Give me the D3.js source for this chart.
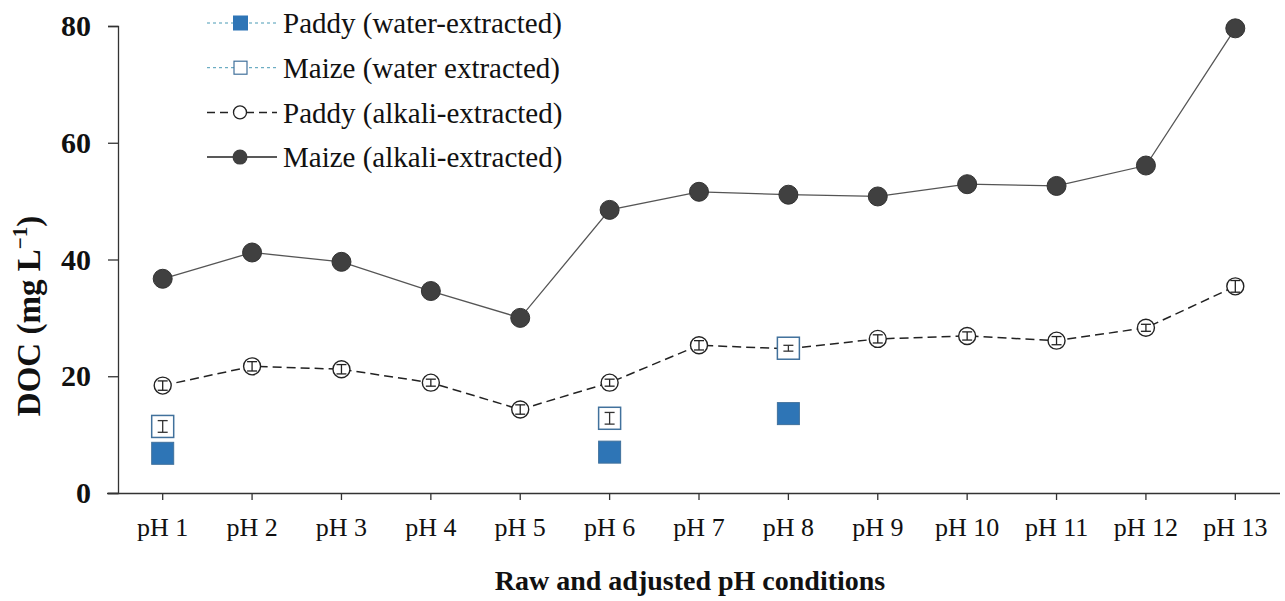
<!DOCTYPE html>
<html>
<head>
<meta charset="utf-8">
<script src="https://cdn.jsdelivr.net/npm/d3@7"></script>
<style>
  body { margin: 0; background: #fff; }
  text { font-family: "Liberation Serif", "Times New Roman", serif; }
</style>
</head>
<body>
<div id="chart"></div>
<script>
// DATA
var categories = ["pH 1", "pH 2", "pH 3", "pH 4", "pH 5", "pH 6", "pH 7", "pH 8", "pH 9", "pH 10", "pH 11", "pH 12", "pH 13"]
, maizeAlkali = [36.7, 41.2, 39.6, 34.6, 30.0, 48.5, 51.6, 51.1, 50.8, 52.9, 52.6, 56.1, 79.6]
, paddyAlkali = [18.4, 21.7, 21.2, 18.9, 14.3, 18.9, 25.3, 24.7, 26.4, 26.9, 26.1, 28.3, 35.4]
, paddyAlkaliErr = [0.8, 0.8, 0.8, 0.6, 0.8, 0.6, 0.8, 1.0, 0.7, 0.7, 0.7, 0.6, 1.0]
, waterCats = ["pH 1", "pH 6", "pH 8"]
, maizeWater = [11.4, 12.8, 24.8]
, maizeWaterErr = [1.0, 1.0, 0.5]
, paddyWater = [6.8, 7.0, 13.6]
, yTicks = [0, 20, 40, 60, 80]
, legendItems = [
    {title: "Paddy (water-extracted)", key: "pw"},
    {title: "Maize (water extracted)", key: "mw"},
    {title: "Paddy (alkali-extracted)", key: "pa"},
    {title: "Maize (alkali-extracted)", key: "ma"}
  ];

var w = 1285
, h = 601
, plotLeft = 118
, plotRight = 1280
, plotTop = 26
, plotBottom = 493
, blue = "#2E75B6"
, blueEdge = "#41719C"
, dark = "#404040";

var svg = d3.select("#chart").append("svg")
    .attr("width", w)
    .attr("height", h);

var x = d3.scaleBand().domain(categories).range([plotLeft, plotRight]);
var y = d3.scaleLinear().domain([0, 80]).range([plotBottom, plotTop]);
var cx = function(c) { return x(c) + x.bandwidth() / 2; };

// axes
var yAxis = svg.append("g")
    .attr("transform", "translate(" + plotLeft + ",0)")
    .call(d3.axisLeft(y).tickValues(yTicks).tickSize(10).tickPadding(17));
yAxis.select(".domain").attr("stroke", "#333").attr("stroke-width", 1.3);
yAxis.selectAll(".tick line").attr("stroke", "#333").attr("stroke-width", 1.3);
yAxis.selectAll(".tick text")
    .attr("font-size", 30).attr("font-weight", "bold").attr("fill", "#111")
    .style("font-family", "'Liberation Serif', serif");

var xAxis = svg.append("g")
    .attr("transform", "translate(0," + plotBottom + ")")
    .call(d3.axisBottom(x).tickSize(7).tickSizeOuter(0).tickPadding(18));
xAxis.select(".domain").attr("d", "M" + (plotLeft - 11) + ",0.5H" + plotRight)
    .attr("stroke", "#333").attr("stroke-width", 1.3);
xAxis.selectAll(".tick line").attr("stroke", "#333").attr("stroke-width", 1.3);
xAxis.selectAll(".tick text")
    .attr("font-size", 26).attr("fill", "#111")
    .style("font-family", "'Liberation Serif', serif");

// axis titles
svg.append("text")
    .attr("x", 690)
    .attr("y", 590)
    .attr("text-anchor", "middle")
    .attr("font-size", 28).attr("font-weight", "bold").attr("fill", "#111")
    .text("Raw and adjusted pH conditions");

var yt = svg.append("text")
    .attr("transform", "translate(40,316) rotate(-90)")
    .attr("text-anchor", "middle")
    .attr("font-size", 33).attr("font-weight", "bold").attr("fill", "#111");
yt.append("tspan").text("DOC (mg L");
yt.append("tspan").attr("dy", -13).attr("font-size", 21).text("\u22121");
yt.append("tspan").attr("dy", 13).text(")");

// lines
var line = d3.line()
    .x(function(d, i) { return cx(categories[i]); })
    .y(function(d) { return y(d); });

svg.append("path").datum(maizeAlkali)
    .attr("d", line).attr("fill", "none")
    .attr("stroke", "#555").attr("stroke-width", 1.3);

svg.append("path").datum(paddyAlkali)
    .attr("d", line).attr("fill", "none")
    .attr("stroke", "#222").attr("stroke-width", 1.5)
    .attr("stroke-dasharray", "9,5");

// maize alkali markers
svg.selectAll("circle.ma").data(maizeAlkali).enter()
    .append("circle").attr("class", "ma")
    .attr("cx", function(d, i) { return cx(categories[i]); })
    .attr("cy", function(d) { return y(d); })
    .attr("r", 9.5)
    .attr("fill", dark).attr("stroke", "#333").attr("stroke-width", 1);

// paddy alkali markers
svg.selectAll("circle.pa").data(paddyAlkali).enter()
    .append("circle").attr("class", "pa")
    .attr("cx", function(d, i) { return cx(categories[i]); })
    .attr("cy", function(d) { return y(d); })
    .attr("r", 8.5)
    .attr("fill", "#fff").attr("stroke", "#222").attr("stroke-width", 1.4);

// error bars drawn inside markers
function errorBars(vals, errs, cats, cls, color) {
  var g = svg.selectAll("g." + cls).data(vals).enter()
      .append("g").attr("class", cls)
      .attr("stroke", color).attr("stroke-width", 1.3);
  g.append("line")
      .attr("x1", function(d, i) { return cx(cats[i]); })
      .attr("x2", function(d, i) { return cx(cats[i]); })
      .attr("y1", function(d, i) { return y(d - errs[i]); })
      .attr("y2", function(d, i) { return y(d + errs[i]); });
  g.append("line")
      .attr("x1", function(d, i) { return cx(cats[i]) - 5; })
      .attr("x2", function(d, i) { return cx(cats[i]) + 5; })
      .attr("y1", function(d, i) { return y(d - errs[i]); })
      .attr("y2", function(d, i) { return y(d - errs[i]); });
  g.append("line")
      .attr("x1", function(d, i) { return cx(cats[i]) - 5; })
      .attr("x2", function(d, i) { return cx(cats[i]) + 5; })
      .attr("y1", function(d, i) { return y(d + errs[i]); })
      .attr("y2", function(d, i) { return y(d + errs[i]); });
}
errorBars(paddyAlkali, paddyAlkaliErr, categories, "paerr", "#222");

// water markers
var sq = 22;
svg.selectAll("rect.mw").data(maizeWater).enter()
    .append("rect").attr("class", "mw")
    .attr("x", function(d, i) { return cx(waterCats[i]) - sq / 2; })
    .attr("y", function(d) { return y(d) - sq / 2; })
    .attr("width", sq).attr("height", sq)
    .attr("fill", "#fff").attr("stroke", blueEdge).attr("stroke-width", 1.5);
errorBars(maizeWater, maizeWaterErr, waterCats, "mwerr", "#333");

svg.selectAll("rect.pw").data(paddyWater).enter()
    .append("rect").attr("class", "pw")
    .attr("x", function(d, i) { return cx(waterCats[i]) - sq / 2; })
    .attr("y", function(d) { return y(d) - sq / 2; })
    .attr("width", sq).attr("height", sq)
    .attr("fill", blue).attr("stroke", blueEdge).attr("stroke-width", 1);

// legend
var legend = svg.selectAll("g.legend").data(legendItems).enter()
    .append("g").attr("class", "legend")
    .attr("transform", function(d, i) { return "translate(0," + (23 + i * 44.7) + ")"; });

legend.append("line")
    .attr("x1", 207).attr("x2", 277).attr("y1", 0).attr("y2", 0)
    .attr("stroke", function(d) { return d.key === "pw" || d.key === "mw" ? "#4A9BB5" : "#222"; })
    .attr("stroke-width", function(d) { return d.key === "pw" || d.key === "mw" ? 1 : 1.5; })
    .attr("stroke-dasharray", function(d) {
      if (d.key === "ma") { return null; }
      return d.key === "pa" ? "8,5" : "3,3";
    });

legend.each(function(d) {
  var g = d3.select(this);
  if (d.key === "pw") {
    g.append("rect").attr("x", 233).attr("y", -7.5).attr("width", 15).attr("height", 15)
        .attr("fill", blue);
  } else if (d.key === "mw") {
    g.append("rect").attr("x", 234).attr("y", -6.5).attr("width", 13).attr("height", 13)
        .attr("fill", "#fff").attr("stroke", blueEdge).attr("stroke-width", 1.2);
  } else if (d.key === "pa") {
    g.append("circle").attr("cx", 240).attr("cy", 0).attr("r", 6.5)
        .attr("fill", "#fff").attr("stroke", "#222").attr("stroke-width", 1.3);
  } else {
    g.append("circle").attr("cx", 240).attr("cy", 0).attr("r", 7.5)
        .attr("fill", dark);
  }
});

legend.append("text")
    .attr("x", 283).attr("y", 0).attr("dy", "0.35em")
    .attr("font-size", 29).attr("fill", "#111")
    .text(function(d) { return d.title; });
</script>
</body>
</html>
